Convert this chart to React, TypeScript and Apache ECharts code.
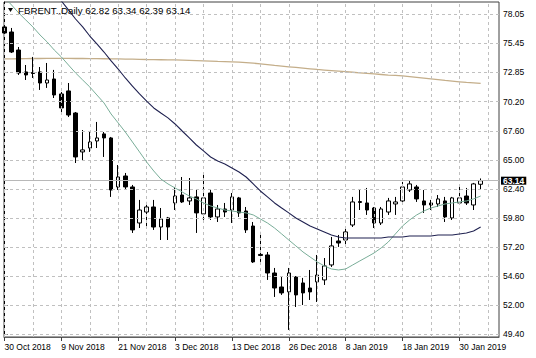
import React, { useEffect, useRef } from "react";
import * as echarts from "echarts";

const dates = [
  "30 Oct 2018", "31 Oct 2018", "1 Nov 2018", "2 Nov 2018", "5 Nov 2018", "6 Nov 2018", "7 Nov 2018", "8 Nov 2018",
  "9 Nov 2018", "12 Nov 2018", "13 Nov 2018", "14 Nov 2018", "15 Nov 2018", "16 Nov 2018", "19 Nov 2018", "20 Nov 2018",
  "21 Nov 2018", "22 Nov 2018", "23 Nov 2018", "26 Nov 2018", "27 Nov 2018", "28 Nov 2018", "29 Nov 2018", "30 Nov 2018",
  "3 Dec 2018", "4 Dec 2018", "5 Dec 2018", "6 Dec 2018", "7 Dec 2018", "10 Dec 2018", "11 Dec 2018", "12 Dec 2018",
  "13 Dec 2018", "14 Dec 2018", "17 Dec 2018", "18 Dec 2018", "19 Dec 2018", "20 Dec 2018", "21 Dec 2018", "24 Dec 2018",
  "26 Dec 2018", "27 Dec 2018", "28 Dec 2018", "31 Dec 2018", "2 Jan 2019", "3 Jan 2019", "4 Jan 2019", "7 Jan 2019",
  "8 Jan 2019", "9 Jan 2019", "10 Jan 2019", "11 Jan 2019", "14 Jan 2019", "15 Jan 2019", "16 Jan 2019", "17 Jan 2019",
  "18 Jan 2019", "21 Jan 2019", "22 Jan 2019", "23 Jan 2019", "24 Jan 2019", "25 Jan 2019", "28 Jan 2019", "29 Jan 2019",
  "30 Jan 2019", "31 Jan 2019", "1 Feb 2019", "4 Feb 2019",
];

const opens = [
  76.88, 76.43, 74.82, 72.86, 72.81, 72.86, 71.87, 72.23, 70.89, 71.16,
  69.19, 65.71, 66.06, 66.69, 67.32, 66.96, 62.58, 63.56, 62.58, 59.36,
  60.34, 60.79, 59.0, 59.81, 61.15, 61.86, 61.33, 61.69, 60.17, 62.04,
  59.9, 60.61, 60.52, 61.6, 60.43, 59.09, 56.55, 56.5, 54.89, 53.64,
  53.2, 54.53, 54.0, 53.55, 54.09, 54.27, 55.61, 57.75, 57.84, 59.18,
  61.19, 61.15, 60.7, 59.36, 60.34, 61.06, 61.33, 62.31, 62.58, 61.33,
  61.15, 61.06, 61.33, 59.81, 61.15, 61.77, 60.97, 62.82,
];
const highs = [
  77.33, 76.79, 75.09, 73.48, 74.2, 73.3, 73.66, 73.04, 71.07, 71.87,
  69.28, 67.67, 67.49, 68.39, 67.49, 67.05, 64.54, 63.83, 62.76, 61.42,
  61.24, 61.42, 60.7, 59.9, 62.58, 63.47, 63.38, 62.31, 63.83, 62.31,
  60.97, 61.15, 62.04, 61.69, 60.79, 59.45, 58.56, 56.77, 55.34, 54.53,
  55.34, 54.62, 54.45, 55.16, 56.5, 56.23, 58.11, 58.29, 58.91, 61.69,
  62.31, 62.49, 60.79, 60.79, 61.6, 61.69, 63.03, 63.2, 62.76, 62.31,
  61.42, 61.86, 61.69, 61.69, 62.58, 62.49, 62.94, 63.34,
];
const lows = [
  76.16, 74.55, 72.59, 72.14, 72.32, 71.25, 71.43, 70.53, 69.28, 68.83,
  64.72, 64.99, 65.71, 66.06, 65.26, 61.69, 62.31, 62.31, 58.47, 58.91,
  59.0, 58.74, 57.84, 57.84, 60.52, 61.15, 60.97, 58.47, 59.63, 59.63,
  59.45, 59.9, 59.36, 59.9, 58.47, 55.79, 55.88, 54.27, 52.75, 52.93,
  49.8, 51.85, 52.03, 52.48, 52.3, 53.82, 55.43, 57.22, 57.22, 59.0,
  60.52, 60.08, 58.91, 59.18, 60.08, 60.08, 61.24, 62.13, 61.24, 60.26,
  60.52, 60.79, 59.45, 59.63, 60.97, 60.97, 60.52, 62.39,
];
const closes = [
  76.34, 74.64, 72.77, 72.59, 72.72, 71.87, 72.14, 70.8, 69.64, 69.01,
  65.26, 65.89, 66.6, 66.96, 66.96, 62.31, 63.47, 62.58, 58.74, 60.52,
  60.79, 59.0, 59.72, 59.0, 61.77, 61.24, 61.6, 60.26, 61.6, 59.9,
  60.61, 60.34, 61.69, 60.26, 58.74, 55.88, 56.46, 54.89, 53.55, 53.11,
  54.89, 52.93, 53.11, 53.2, 54.71, 55.52, 57.31, 57.57, 58.56, 61.24,
  61.28, 60.52, 59.36, 60.61, 61.33, 61.24, 62.58, 62.85, 61.51, 60.97,
  60.97, 61.51, 59.9, 61.6, 61.6, 61.15, 62.85, 63.14,
];

// green (fast) moving average
const maFast = [
  79.5, 78.84, 78.13, 77.5, 76.88, 76.16, 75.54, 74.82, 74.2, 73.48,
  72.77, 72.14, 71.52, 70.8, 70.09, 69.1, 68.3, 67.49, 66.6, 65.71,
  64.81, 64.01, 63.29, 62.85, 62.49, 62.13, 61.77, 61.51, 61.15, 60.88,
  60.7, 60.52, 60.43, 60.34, 60.26, 60.08, 59.72, 59.36, 58.91, 58.38,
  57.84, 57.31, 56.77, 56.32, 55.88, 55.52, 55.25, 55.16, 55.25, 55.61,
  55.97, 56.32, 56.68, 57.13, 57.66, 58.38, 59.09, 59.63, 60.08, 60.43,
  60.7, 60.88, 61.06, 61.15, 61.24, 61.33, 61.51, 61.77,
];
// navy (medium) moving average
const maMid = [
  85.28, 84.47, 83.76, 82.96, 82.24, 81.44, 80.72, 79.92, 79.2, 78.4,
  77.59, 76.88, 76.07, 75.36, 74.64, 73.84, 73.12, 72.32, 71.6, 70.89,
  70.26, 69.64, 69.19, 68.75, 68.21, 67.58, 66.96, 66.33, 65.8, 65.26,
  64.9, 64.63, 64.28, 63.92, 63.47, 62.85, 62.22, 61.69, 61.15, 60.7,
  60.26, 59.81, 59.45, 59.09, 58.83, 58.56, 58.29, 58.11, 58.02, 58.02,
  58.02, 58.02, 58.02, 58.02, 58.11, 58.11, 58.11, 58.2, 58.2, 58.2,
  58.2, 58.29, 58.29, 58.29, 58.38, 58.47, 58.65, 59.0,
];
// tan (slow) moving average
const maSlow = [
  74.02, 74.03, 74.04, 74.05, 74.06, 74.06, 74.07, 74.07, 74.07, 74.07,
  74.06, 74.06, 74.05, 74.05, 74.04, 74.03, 74.02, 74.01, 74.0, 73.99,
  73.97, 73.96, 73.95, 73.94, 73.93, 73.91, 73.89, 73.87, 73.85, 73.83,
  73.8, 73.78, 73.76, 73.73, 73.69, 73.64, 73.58, 73.51, 73.44, 73.38,
  73.32, 73.26, 73.2, 73.14, 73.08, 73.03, 72.98, 72.93, 72.88, 72.83,
  72.78, 72.73, 72.68, 72.63, 72.58, 72.55, 72.5, 72.44, 72.38, 72.31,
  72.24, 72.17, 72.1, 72.04, 71.98, 71.92, 71.88, 71.84,
];

const priceTicks = [49.4, 52.0, 54.6, 57.2, 59.8, 62.4, 65.0, 67.6, 70.2, 72.85, 75.45, 78.05];
const dateTickIdx = [0, 8, 16, 24, 32, 40, 48, 56, 64];
const vGridIdx = [0, 4, 8, 12, 16, 20, 24, 28, 32, 36, 40, 44, 48, 52, 56, 60, 64, 68];
const symbolName = "FBRENT..Daily";

const FONT = "Liberation Sans";

export default function App() {
  const ref = useRef<HTMLDivElement>(null);
  useEffect(() => {
    if (!ref.current) return;
    const chart = echarts.init(ref.current, null, { renderer: "svg" });
    const n = closes.length;
    const last = n - 1;
    const lastPrice = closes[last];
    const candleData = closes.map((c, i) => [i, opens[i], c, lows[i], highs[i]]);
    const toLine = (arr: number[]) => arr.map((v, i) => [i, v]);
    const titleText = `${symbolName} ${opens[last].toFixed(2)} ${highs[last].toFixed(2)} ${lows[last].toFixed(2)} ${lastPrice.toFixed(2)}`;

    const gridLineStyle = { color: "#c0c0c0", type: [3, 3] as any, width: 1 };

    chart.setOption({
      animation: false,
      backgroundColor: "#ffffff",
      grid: {
        left: 4,
        top: 2,
        right: 37,
        bottom: 21,
        show: true,
        borderColor: "#404040",
        borderWidth: 1,
      },
      xAxis: {
        type: "value",
        min: -0.07,
        max: 69.58,
        axisLine: { show: true, lineStyle: { color: "#606060" } },
        axisTick: {
          show: true,
          customValues: dateTickIdx,
          length: 4,
          lineStyle: { color: "#404040" },
        },
        splitLine: { show: false },
        axisLabel: {
          customValues: dateTickIdx,
          formatter: (v: number) => dates[Math.round(v)] ?? "",
          align: "left",
          margin: 5,
          color: "#000",
          fontFamily: FONT,
          fontSize: 8.5,
        },
      },
      yAxis: {
        type: "value",
        position: "right",
        min: 49.17,
        max: 79.11,
        axisLine: { show: true, lineStyle: { color: "#000" } },
        axisTick: {
          show: true,
          customValues: priceTicks,
          length: 3,
          lineStyle: { color: "#000" },
        },
        splitLine: { show: false },
        axisLabel: {
          customValues: priceTicks,
          formatter: (v: number) => v.toFixed(2),
          margin: 4,
          color: "#000",
          fontFamily: FONT,
          fontSize: 8.5,
        },
      },
      graphic: [
        {
          type: "polygon",
          shape: { points: [[8, 8], [13, 8], [10.5, 12]] },
          style: { fill: "#000" },
          z: 100,
        },
        {
          type: "text",
          x: 18,
          y: 10.5,
          style: {
            text: titleText,
            fill: "#000",
            font: `9.7px "${FONT}"`,
            textVerticalAlign: "middle",
          },
          z: 100,
        },
      ],
      series: [
        {
          type: "line",
          name: "grid",
          data: [],
          z: 1,
          silent: true,
          markLine: {
            silent: true,
            symbol: ["none", "none"],
            label: { show: false },
            lineStyle: gridLineStyle,
            data: [
              ...vGridIdx.map((v) => ({ xAxis: v })),
              ...priceTicks.map((v) => ({ yAxis: v })),
            ],
          },
        },
        {
          type: "line",
          name: "slow",
          data: toLine(maSlow),
          symbol: "none",
          z: 3,
          lineStyle: { color: "#c4ae8a", width: 1.3 },
        },
        {
          type: "candlestick",
          name: "FBRENT",
          data: candleData,
          encode: { x: 0, y: [1, 2, 3, 4] },
          barWidth: 4,
          z: 4,
          itemStyle: {
            color: "#ffffff",
            color0: "#000000",
            borderColor: "#000000",
            borderColor0: "#000000",
            borderWidth: 1,
          },
          markLine: {
            silent: true,
            symbol: ["none", "none"],
            lineStyle: { color: "#b8b8b8", type: "solid", width: 1 },
            label: {
              show: true,
              position: "end",
              distance: 2,
              formatter: lastPrice.toFixed(2),
              color: "#fff",
              backgroundColor: "#000",
              padding: [0, 2, 0, 2],
              lineHeight: 8,
              fontFamily: FONT,
              fontSize: 8.5,
              fontWeight: "bold",
            },
            data: [{ yAxis: lastPrice }],
          },
        },
        {
          type: "line",
          name: "fast",
          data: toLine(maFast),
          symbol: "none",
          z: 5,
          lineStyle: { color: "#79ad98", width: 1 },
        },
        {
          type: "line",
          name: "mid",
          data: toLine(maMid),
          symbol: "none",
          z: 5,
          lineStyle: { color: "#1f2150", width: 1.1 },
        },
      ],
    });
    return () => chart.dispose();
  }, []);
  return (
    <div
      ref={ref}
      style={{ position: "fixed", left: 0, top: 0, width: 536, height: 358, background: "#fff" }}
    />
  );
}
